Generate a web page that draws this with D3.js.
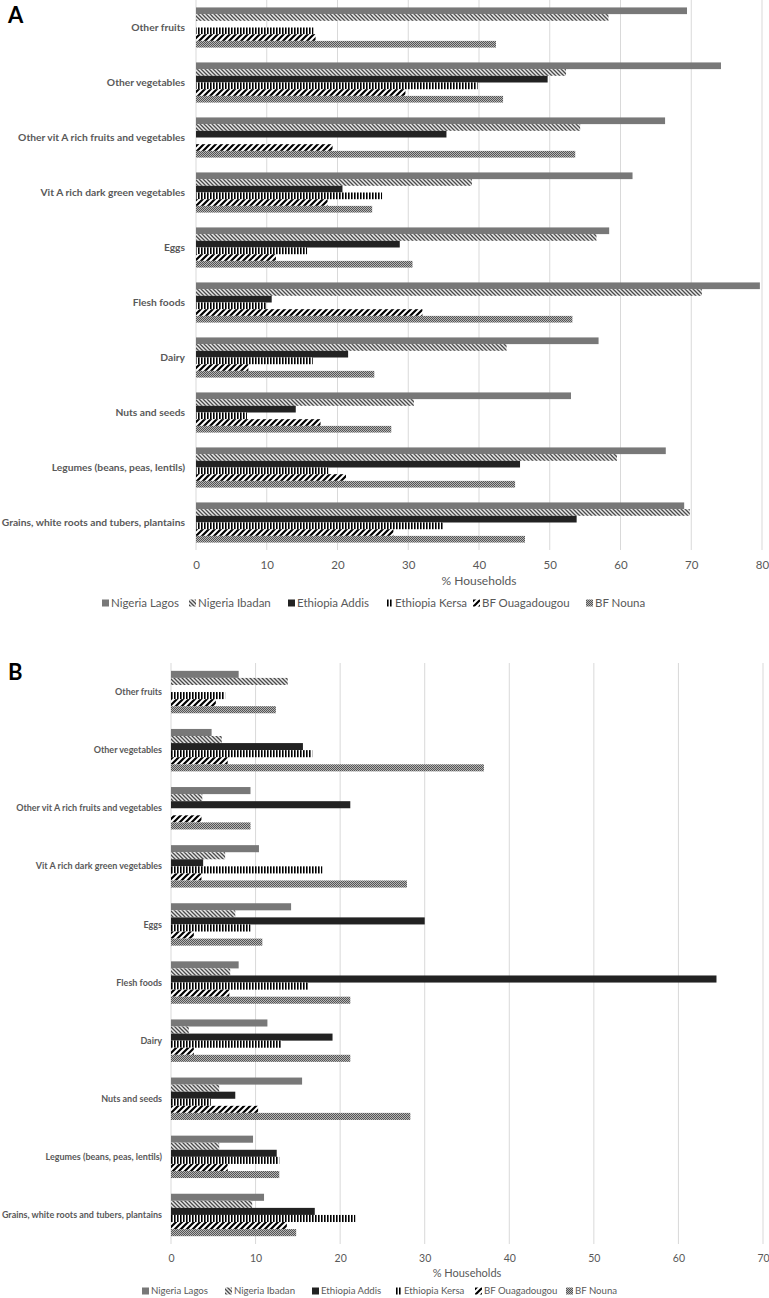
<!DOCTYPE html>
<html>
<head>
<meta charset="utf-8">
<script src="https://cdn.jsdelivr.net/npm/d3@7"></script>
<style>
  html, body { margin: 0; padding: 0; background: #fff; }
  svg { display: block; }
  text { font-family: Lato, "Open Sans", sans-serif; }
</style>
</head>
<body>
<svg id="chart" width="769" height="1298"></svg>
<script>
// ---------- DATA ----------
const categories = [
  "Other fruits",
  "Other vegetables",
  "Other vit A rich fruits and vegetables",
  "Vit A rich dark green vegetables",
  "Eggs",
  "Flesh foods",
  "Dairy",
  "Nuts and seeds",
  "Legumes (beans, peas, lentils)",
  "Grains, white roots and tubers, plantains"
];
const seriesNames = ["Nigeria Lagos", "Nigeria Ibadan", "Ethiopia Addis", "Ethiopia Kersa", "BF Ouagadougou", "BF Nouna"];

// Panel A values (% households), one per category in the order above
const lagosA  = [69.4, 74.2, 66.3, 61.7, 58.4, 79.7, 56.9, 53.0, 66.4, 69.0];
const ibadanA = [58.3, 52.3, 54.3, 39.0, 56.6, 71.5, 43.9, 30.8, 59.5, 69.8];
const addisA  = [0, 49.7, 35.4, 20.7, 28.8, 10.7, 21.5, 14.1, 45.8, 53.8];
const kersaA  = [16.6, 39.8, 0, 26.3, 15.7, 9.9, 16.5, 7.2, 18.7, 34.9];
const ouagaA  = [16.9, 29.6, 19.3, 18.6, 11.3, 32.0, 7.4, 17.6, 21.2, 27.9];
const nounaA  = [42.4, 43.4, 53.6, 24.9, 30.6, 53.2, 25.2, 27.6, 45.1, 46.5];

// Panel B values
const lagosB  = [8.0, 4.8, 9.4, 10.4, 14.2, 8.0, 11.4, 15.5, 9.7, 11.0];
const ibadanB = [13.8, 6.0, 3.7, 6.4, 7.6, 7.0, 2.1, 5.7, 5.7, 9.6];
const addisB  = [0, 15.6, 21.2, 3.8, 30.0, 64.5, 19.1, 7.6, 12.5, 17.0];
const kersaB  = [6.4, 16.7, 0, 17.9, 9.4, 16.2, 13.1, 4.7, 12.8, 21.8];
const ouagaB  = [5.3, 6.7, 3.6, 3.6, 2.7, 6.9, 2.7, 10.3, 6.7, 13.7];
const nounaB  = [12.4, 37.0, 9.4, 27.9, 10.8, 21.2, 21.2, 28.3, 12.8, 14.8];

const ticksA = [0, 10, 20, 30, 40, 50, 60, 70, 80];
const ticksB = [0, 10, 20, 30, 40, 50, 60, 70];
const axisTitle = "% Households";

// ---------- PATTERNS ----------
const svg = d3.select("#chart");
const defs = svg.append("defs");

function pat(id, w, h, build) {
  const p = defs.append("pattern").attr("id", id)
    .attr("patternUnits", "userSpaceOnUse").attr("width", w).attr("height", h);
  build(p);
}
pat("pIbadan", 4, 4, p => {
  p.append("rect").attr("width", 4).attr("height", 4).attr("fill", "#e8e8e8");
  p.append("path").attr("d", "M-1,-1 L5,5 M-1,3 L1,5 M3,-1 L5,1")
    .attr("stroke", "#4a4a4a").attr("stroke-width", 1.3);
});
pat("pKersa", 3, 4, p => {
  p.append("rect").attr("width", 3).attr("height", 4).attr("fill", "#fff");
  p.append("rect").attr("width", 1.6).attr("height", 4).attr("fill", "#000");
});
pat("pOuaga", 6, 6, p => {
  p.append("rect").attr("width", 6).attr("height", 6).attr("fill", "#fff");
  p.append("path").attr("d", "M-1,7 L7,-1 M-4,4 L4,-4 M2,10 L10,2")
    .attr("stroke", "#000").attr("stroke-width", 2.2);
});
pat("pNouna", 2, 2, p => {
  p.append("rect").attr("width", 2).attr("height", 2).attr("fill", "#b5b5b5");
  p.append("rect").attr("width", 1).attr("height", 1).attr("fill", "#555");
  p.append("rect").attr("x", 1).attr("y", 1).attr("width", 1).attr("height", 1).attr("fill", "#555");
});

const fills = ["#787878", "url(#pIbadan)", "#222222", "url(#pKersa)", "url(#pOuaga)", "url(#pNouna)"];
const textGray = "#595959";

// scale a text's font so its rendered width matches a target width
function fitSize(sel, base, target) {
  sel.attr("font-size", base);
  const w = sel.node().getComputedTextLength();
  return base * target / w;
}

// ---------- PANEL ----------
function drawPanel(cfg) {
  const g = svg.append("g");
  const x = d3.scaleLinear().domain([0, cfg.max]).range([cfg.x0, cfg.x1]);
  const y = d3.scaleBand().domain(categories).range([cfg.y0, cfg.y1])
    .paddingInner(0.27).paddingOuter(0.135);
  const ys = d3.scaleBand().domain(seriesNames).range([0, y.bandwidth()]);

  // gridlines
  g.append("g").selectAll("line").data(cfg.ticks).join("line")
    .attr("x1", d => x(d)).attr("x2", d => x(d))
    .attr("y1", cfg.y0).attr("y2", cfg.y1)
    .attr("stroke", "#d9d9d9").attr("stroke-width", 1);

  // bars
  const rows = cfg.values;
  seriesNames.forEach((s, si) => {
    g.append("g").selectAll("rect").data(categories).join("rect")
      .attr("x", x(0))
      .attr("y", c => y(c) + ys(s))
      .attr("width", (c, i) => Math.max(0, x(rows[si][i]) - x(0)))
      .attr("height", ys.bandwidth())
      .attr("fill", fills[si]);
  });

  // category labels
  const labels = g.append("g").selectAll("text").data(categories).join("text")
    .attr("x", cfg.labelX)
    .attr("y", c => y(c) + y.bandwidth() / 2)
    .attr("dy", "0.35em")
    .attr("text-anchor", "end")
    .attr("font-weight", "bold")
    .attr("fill", textGray)
    .text(c => c);
  const ref = labels.filter(c => c === categories[2]);
  const ls = fitSize(ref, 10, cfg.labelW);
  labels.attr("font-size", ls);

  // x axis tick labels
  const ax = d3.axisBottom(x).tickValues(cfg.ticks).tickSize(0).tickPadding(0);
  const axG = g.append("g").attr("transform", `translate(0,${cfg.tickY})`).call(ax);
  axG.select(".domain").remove();
  axG.selectAll("text").attr("font-size", cfg.tickSize).attr("fill", textGray)
    .attr("font-family", "Lato, sans-serif").attr("dy", "0.35em").attr("y", 0);

  // axis title
  g.append("text").attr("x", (cfg.x0 + cfg.x1) / 2).attr("y", cfg.titleY)
    .attr("dy", "0.35em").attr("text-anchor", "middle")
    .attr("font-size", cfg.tickSize + 0.5).attr("fill", textGray).text(axisTitle);

  // legend
  const lg = g.append("g");
  let legSize = null;
  seriesNames.forEach((s, si) => {
    const lx = cfg.legendX[si];
    lg.append("rect").attr("x", lx).attr("y", cfg.legendY - 3.5)
      .attr("width", 7).attr("height", 7).attr("fill", fills[si]);
    const t = lg.append("text").attr("x", lx + 9).attr("y", cfg.legendY).attr("dy", "0.35em")
      .attr("fill", textGray).text(s);
    if (legSize === null) legSize = fitSize(t, 11, cfg.legendW);
    t.attr("font-size", legSize);
  });

  // panel letter
  svg.append("text").attr("x", cfg.letterX).attr("y", cfg.letterY)
    .attr("font-family", "'Liberation Sans', Arial, sans-serif")
    .attr("font-weight", "bold").attr("font-size", 22).attr("fill", "#000")
    .text(cfg.letter);
}

drawPanel({
  letter: "A", letterX: 8, letterY: 23,
  values: [lagosA, ibadanA, addisA, kersaA, ouagaA, nounaA],
  max: 80, ticks: ticksA,
  x0: 196, x1: 762, y0: 0, y1: 550,
  labelX: 185, labelW: 167, tickSize: 11.5,
  tickY: 565, titleY: 581, legendY: 603,
  legendX: [102, 189, 288, 386, 473, 586], legendW: 68
});

drawPanel({
  letter: "B", letterX: 8, letterY: 680,
  values: [lagosB, ibadanB, addisB, kersaB, ouagaB, nounaB],
  max: 70, ticks: ticksB,
  x0: 171, x1: 763, y0: 663, y1: 1244,
  labelX: 162, labelW: 146, tickSize: 10.5,
  tickY: 1258, titleY: 1273, legendY: 1291,
  legendX: [142, 225, 312, 395, 475, 566], legendW: 57
});
</script>
</body>
</html>
